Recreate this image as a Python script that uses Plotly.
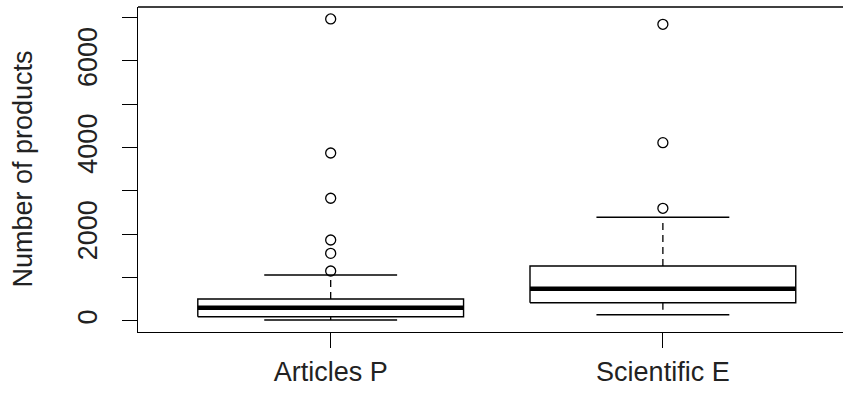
import plotly.graph_objects as go

categories = ["Articles P", "Scientific E"]
lower_whisker = [23, 145]
q1 = [99, 422]
median = [307, 745]
q3 = [508, 1269]
upper_whisker = [1062, 2393]
outliers = [
    [1154, 1562, 1869, 2832, 3877, 6970],
    [2601, 4115, 6847],
]
y_ticks = [0, 1000, 2000, 3000, 4000, 5000, 6000, 7000]
y_tick_labels = ["0", "", "2000", "", "4000", "", "6000", ""]

W, H = 843, 398
L, R, T, B = 138, 0, 7, 66
BOX_HALF = 0.4
STAPLE_HALF = 0.2
FONT = "Liberation Sans, Arial, sans-serif"
FS = 27

fig = go.Figure()
for i, name in enumerate(categories):
    x = i + 1
    fig.add_trace(go.Scatter(
        x=[x - BOX_HALF, x + BOX_HALF, x + BOX_HALF, x - BOX_HALF, x - BOX_HALF],
        y=[q1[i], q1[i], q3[i], q3[i], q1[i]],
        mode="lines", line=dict(color="black", width=1.4),
        fill="toself", fillcolor="white", showlegend=False, hoverinfo="skip"))
    fig.add_trace(go.Scatter(
        x=[x - BOX_HALF, x + BOX_HALF], y=[median[i], median[i]],
        mode="lines", line=dict(color="black", width=4.5),
        showlegend=False, hoverinfo="skip"))
    fig.add_trace(go.Scatter(
        x=[x, x, None, x, x],
        y=[q3[i], upper_whisker[i], None, q1[i], lower_whisker[i]],
        mode="lines", line=dict(color="black", width=1.3, dash="7px,5px"),
        showlegend=False, hoverinfo="skip"))
    fig.add_trace(go.Scatter(
        x=[x - STAPLE_HALF, x + STAPLE_HALF, None, x - STAPLE_HALF, x + STAPLE_HALF],
        y=[upper_whisker[i], upper_whisker[i], None, lower_whisker[i], lower_whisker[i]],
        mode="lines", line=dict(color="black", width=1.4),
        showlegend=False, hoverinfo="skip"))
    fig.add_trace(go.Scatter(
        x=[x] * len(outliers[i]), y=outliers[i], mode="markers",
        marker=dict(symbol="circle-open", size=10, color="black", line=dict(width=1.3)),
        showlegend=False, hoverinfo="skip"))

fig.add_shape(type="line", xref="paper", yref="paper", x0=0, x1=1, y0=1, y1=1,
              line=dict(color="black", width=1.3))

fig.add_annotation(text="Number of products", xref="paper", yref="paper",
                   x=(22 - L) / (W - L - R), y=0.5, textangle=-90, showarrow=False,
                   xanchor="center", yanchor="middle",
                   font=dict(family=FONT, size=FS, color="#222222"))

fig.update_layout(
    width=W, height=H, margin=dict(l=L, r=R, t=T, b=B),
    paper_bgcolor="white", plot_bgcolor="white",
    font=dict(family=FONT, size=FS, color="#222222"),
    xaxis=dict(range=[0.42, 2.5422], tickvals=[1, 2], ticktext=categories,
               showgrid=False, zeroline=False, showline=True, linecolor="black", linewidth=1.3,
               ticks="outside", ticklen=15, tickcolor="black", tickwidth=1.3),
    yaxis=dict(range=[-254, 7246], tickvals=y_ticks, ticktext=y_tick_labels, tickangle=-90,
               ticklabelstandoff=14,
               showgrid=False, zeroline=False, showline=True, linecolor="black", linewidth=1.3,
               ticks="outside", ticklen=15, tickcolor="black", tickwidth=1.3),
)

fig.write_html("out.html", config={"displayModeBar": False},
               post_script="document.body.style.margin='0px';document.body.style.overflow='hidden';")
